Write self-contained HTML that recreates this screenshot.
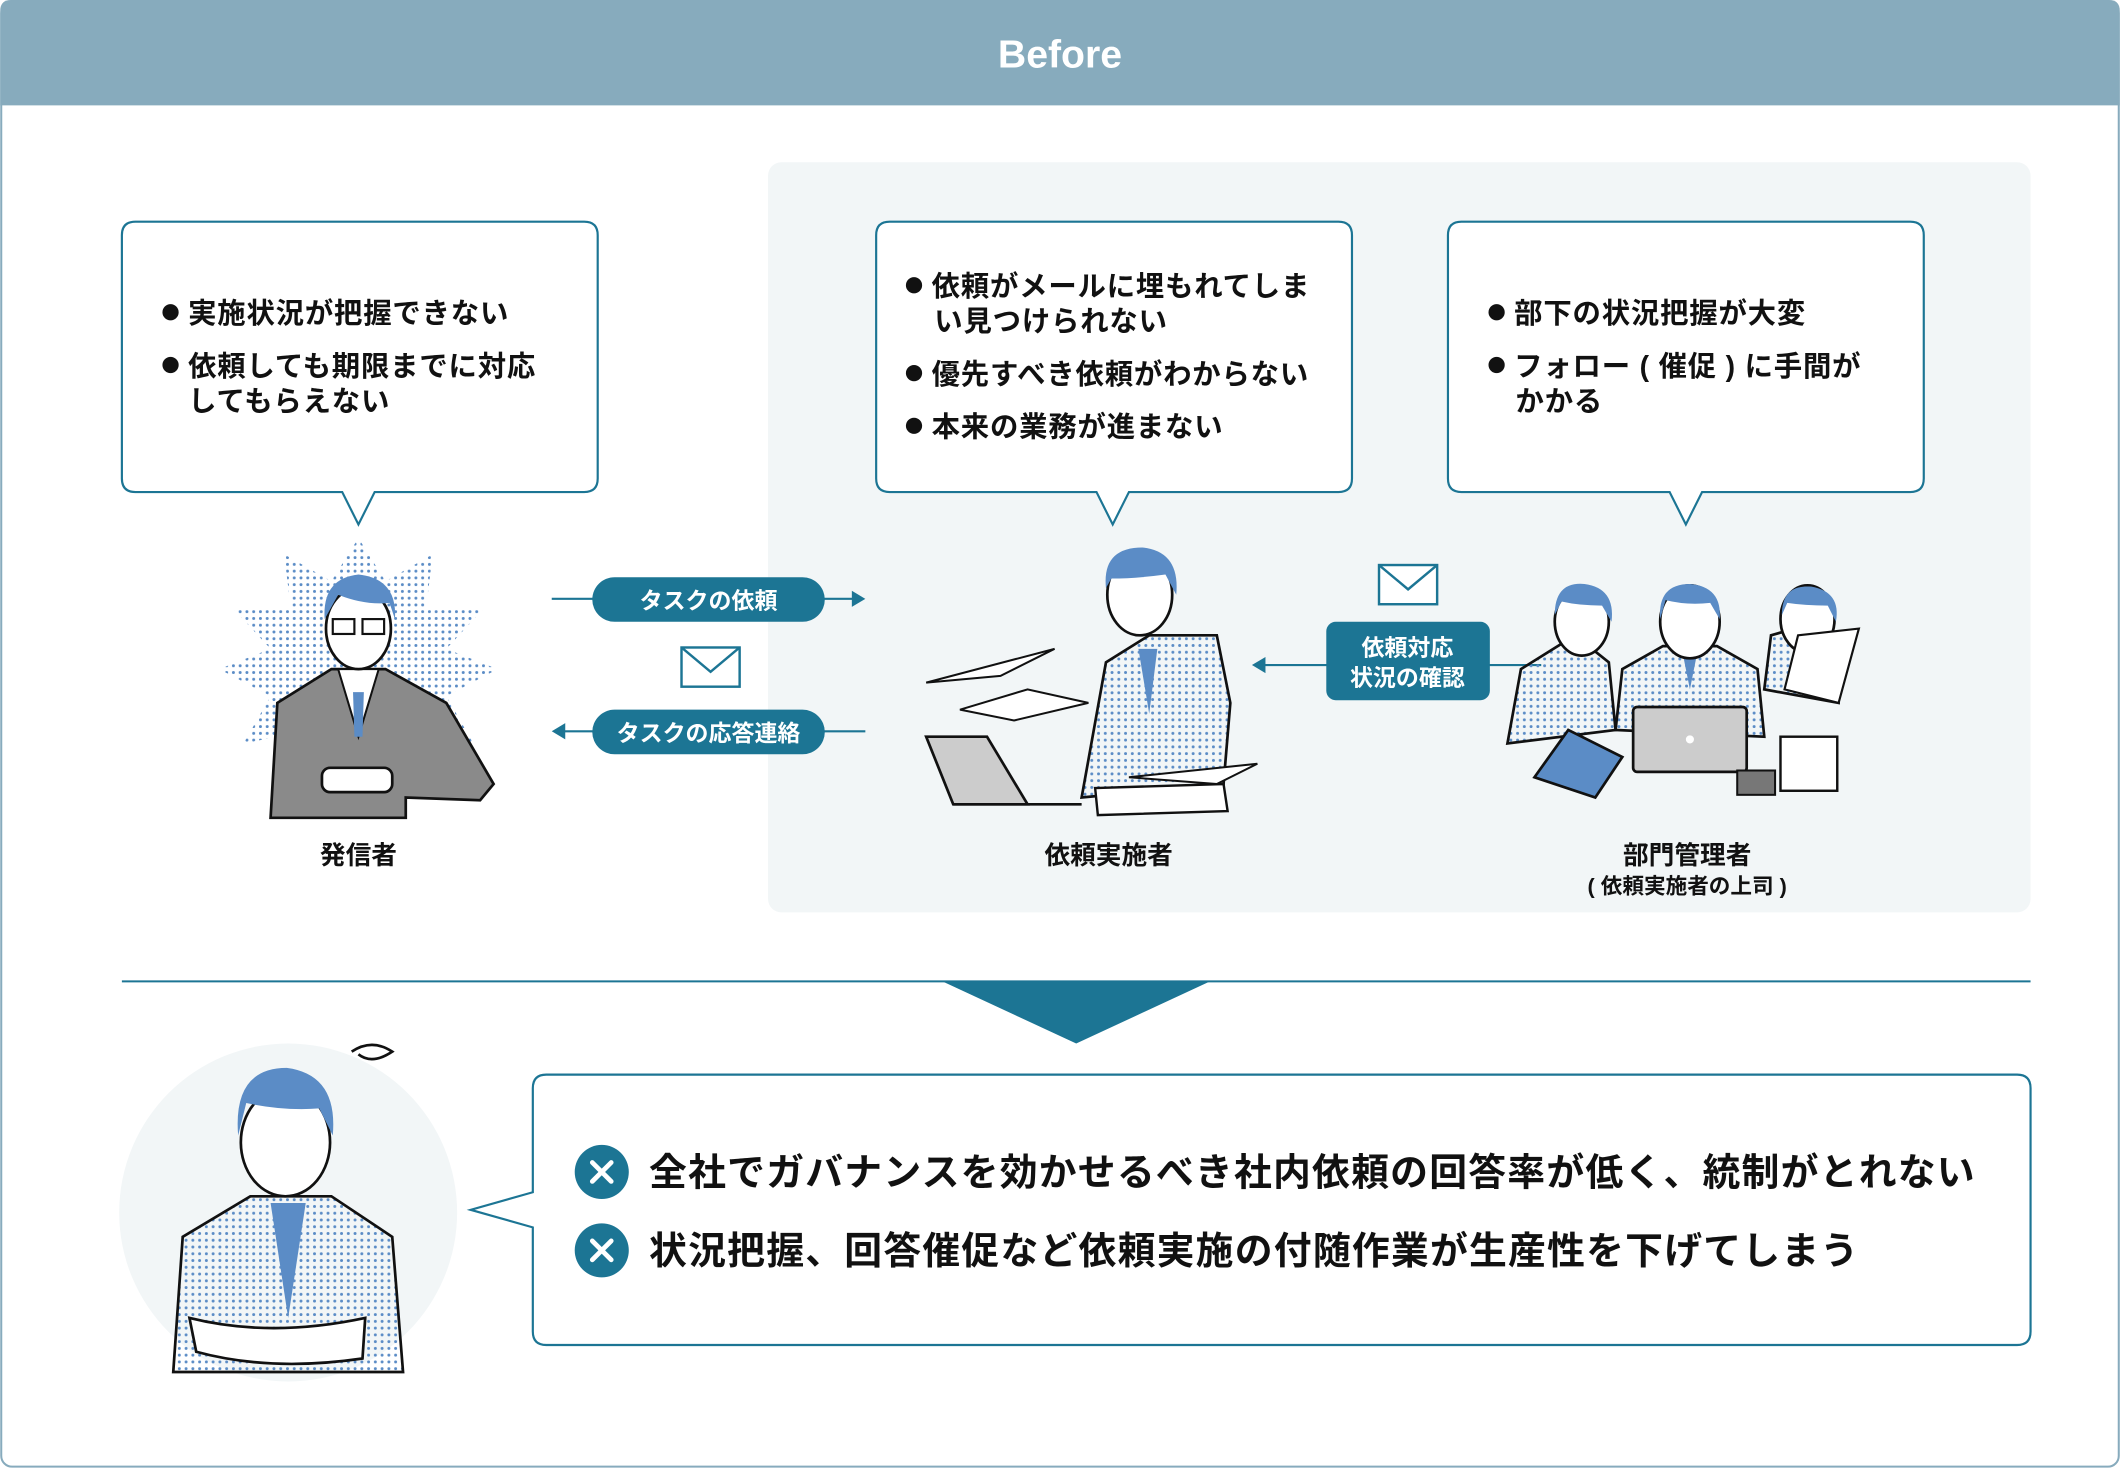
<!DOCTYPE html>
<html><head><meta charset="utf-8"><style>
html,body{margin:0;padding:0;background:#fff;}
svg{display:block;}
text{font-family:"Liberation Sans","Noto Sans CJK JP",sans-serif;font-weight:bold;}
</style></head><body>
<svg width="2120" height="1468" viewBox="0 0 1568 1086" xmlns="http://www.w3.org/2000/svg">
<defs>
<pattern id="dots" width="5" height="5" patternUnits="userSpaceOnUse"><circle cx="2.5" cy="2.5" r="1.1" fill="#5b8cc6"/></pattern>
</defs>
<rect x="0.75" y="2" width="1566.5" height="1083" rx="8" fill="#fff" stroke="#87abbd" stroke-width="1.5"/>
<path d="M0 8 Q0 0 8 0 H1560 Q1568 0 1568 8 V78 H0 Z" fill="#87abbd"/>
<text x="784" y="50" font-size="29" fill="#fff" text-anchor="middle">Before</text>
<rect x="568" y="120" width="934" height="555" rx="10" fill="#f2f6f7"/>
<g fill="#fff" stroke="#1c7594" stroke-width="1.6">
<path d="M100 164 H432 Q442 164 442 174 V354 Q442 364 432 364 H277 L265 388 L253 364 H100 Q90 364 90 354 V174 Q90 164 100 164 Z"/>
<path d="M658 164 H990 Q1000 164 1000 174 V354 Q1000 364 990 364 H835 L823 388 L811 364 H658 Q648 364 648 354 V174 Q648 164 658 164 Z"/>
<path d="M1081 164 H1413 Q1423 164 1423 174 V354 Q1423 364 1413 364 H1259 L1247 388 L1235 364 H1081 Q1071 364 1071 354 V174 Q1071 164 1081 164 Z"/>
</g>
<g fill="#111">
<circle cx="126" cy="231" r="6"/><circle cx="126" cy="270" r="6"/>
<circle cx="676" cy="211" r="6"/><circle cx="676" cy="276" r="6"/><circle cx="676" cy="315" r="6"/>
<circle cx="1107" cy="231" r="6"/><circle cx="1107" cy="270" r="6"/>
</g>
<g font-size="21" fill="#111" letter-spacing="0.6">
<text x="139" y="239">実施状況が把握できない</text>
<text x="139" y="278">依頼しても期限までに対応</text>
<text x="139" y="304">してもらえない</text>
<text x="689" y="219">依頼がメールに埋もれてしま</text>
<text x="691" y="245">い見つけられない</text>
<text x="689" y="284">優先すべき依頼がわからない</text>
<text x="689" y="323">本来の業務が進まない</text>
<text x="1120" y="239">部下の状況把握が大変</text>
<text x="1120" y="278">フォロー ( 催促 ) に手間が</text>
<text x="1121" y="304">かかる</text>
</g>
<g font-size="19" fill="#111" text-anchor="middle">
<text x="265" y="639">発信者</text>
<text x="820" y="639">依頼実施者</text>
<text x="1248" y="639">部門管理者</text>
<text x="1248" y="661" font-size="16">( 依頼実施者の上司 )</text>
</g>
<g stroke="#1c7594" stroke-width="1.6" fill="none">
<line x1="408" y1="443" x2="632" y2="443"/>
<line x1="416" y1="541" x2="640" y2="541"/>
<line x1="934" y1="492" x2="1140" y2="492"/>
</g>
<g fill="#1c7594">
<path d="M640 443 L630 437 L630 449Z"/>
<path d="M408 541 L418 535 L418 547Z"/>
<path d="M926 492 L936 486 L936 498Z"/>
<rect x="438" y="427" width="172" height="33" rx="16.5"/>
<rect x="438" y="525" width="172" height="33" rx="16.5"/>
<rect x="981" y="460" width="121" height="58" rx="7"/>
</g>
<g font-size="17" fill="#fff" text-anchor="middle">
<text x="524" y="450">タスクの依頼</text>
<text x="524" y="548">タスクの応答連絡</text>
<text x="1041" y="485">依頼対応</text>
<text x="1041" y="507">状況の確認</text>
</g>
<g fill="#fff" stroke="#1c7594" stroke-width="1.8">
<rect x="504" y="479" width="43" height="29"/><path d="M504 479 L525.5 497 L547 479" fill="none"/>
<rect x="1020" y="418" width="43" height="29"/><path d="M1020 418 L1041.5 436 L1063 418" fill="none"/>
</g>
<g>
<path d="M265 398 L285 430 L320 410 L315 450 L358 450 L330 480 L368 495 L330 515 L350 550 L300 540 L265 560 L230 540 L180 550 L200 515 L162 495 L200 480 L172 450 L215 450 L210 410 L245 430 Z" fill="url(#dots)"/>
<path d="M200 605 L205 520 L245 495 L285 495 L330 520 L365 580 L355 592 L300 590 L300 605 Z" fill="#8a8a8a" stroke="#111" stroke-width="2"/>
<path d="M250 495 L265 545 L280 495 Z" fill="#fff" stroke="#111" stroke-width="1.5"/>
<path d="M261 512 L269 512 L268 545 L262 545Z" fill="#5b8cc6"/>
<ellipse cx="265" cy="465" rx="24" ry="30" fill="#fff" stroke="#111" stroke-width="2"/>
<path d="M240 458 Q238 428 265 425 Q294 428 292 458 L288 446 Q270 448 250 440 Z" fill="#5b8cc6"/>
<rect x="246" y="458" width="16" height="11" fill="none" stroke="#111" stroke-width="1.6"/><rect x="268" y="458" width="16" height="11" fill="none" stroke="#111" stroke-width="1.6"/>
<rect x="238" y="568" width="52" height="18" rx="6" fill="#fff" stroke="#111" stroke-width="2"/>
</g>
<g>
<path d="M685 505 L780 480 L740 500 Z" fill="#fff" stroke="#111" stroke-width="1.5"/>
<path d="M710 525 L760 510 L805 520 L750 533 Z" fill="#fff" stroke="#111" stroke-width="1.5"/>
<path d="M800 590 L818 490 L850 470 L900 470 L910 520 L905 580 Z" fill="url(#dots)" stroke="#111" stroke-width="2"/>
<path d="M842 480 L850 528 L856 480Z" fill="#5b8cc6"/>
<ellipse cx="843" cy="440" rx="24" ry="30" fill="#fff" stroke="#111" stroke-width="2"/>
<path d="M818 435 Q815 405 845 405 Q873 408 870 440 L862 425 Q840 428 822 428Z" fill="#5b8cc6"/>
<path d="M685 545 L730 545 L760 595 L705 595 Z" fill="#ccc" stroke="#111" stroke-width="2"/>
<path d="M705 595 L800 595" stroke="#111" stroke-width="2"/>
<path d="M810 583 L905 580 L908 600 L812 603 Z" fill="#fff" stroke="#111" stroke-width="1.8"/>
<path d="M835 575 L930 565 L900 580 Z" fill="#fff" stroke="#111" stroke-width="1.5"/>
</g>
<g>
<path d="M1115 550 L1125 495 L1165 470 L1190 490 L1195 540 Z" fill="url(#dots)" stroke="#111" stroke-width="2"/>
<ellipse cx="1170" cy="460" rx="20" ry="25" fill="#fff" stroke="#111" stroke-width="2"/>
<path d="M1150 455 Q1150 430 1172 432 Q1195 435 1192 460 L1185 448 Q1168 448 1155 445Z" fill="#5b8cc6"/>
<path d="M1305 510 L1310 470 L1345 460 L1360 490 L1360 520 Z" fill="url(#dots)" stroke="#111" stroke-width="2"/>
<ellipse cx="1337" cy="458" rx="20" ry="25" fill="#fff" stroke="#111" stroke-width="2"/>
<path d="M1318 455 Q1318 432 1340 434 Q1362 438 1358 460 L1352 448 Q1335 448 1322 446Z" fill="#5b8cc6"/>
<path d="M1330 470 L1375 465 L1360 520 L1320 510 Z" fill="#fff" stroke="#111" stroke-width="1.6"/>
<path d="M1195 540 L1200 495 L1230 478 L1270 478 L1300 495 L1305 545 Z" fill="url(#dots)" stroke="#111" stroke-width="2"/>
<path d="M1244 480 L1250 510 L1256 480Z" fill="#5b8cc6"/>
<ellipse cx="1250" cy="460" rx="22" ry="27" fill="#fff" stroke="#111" stroke-width="2"/>
<path d="M1228 458 Q1226 432 1250 432 Q1274 434 1272 458 L1265 446 Q1248 448 1232 444Z" fill="#5b8cc6"/>
<rect x="1208" y="523" width="84" height="48" rx="3" fill="#ccc" stroke="#111" stroke-width="2"/>
<circle cx="1250" cy="547" r="3" fill="#fff"/>
<path d="M1135 575 L1160 540 L1200 560 L1180 590 Z" fill="#5b8cc6" stroke="#111" stroke-width="2"/>
<rect x="1317" y="545" width="42" height="40" fill="#fff" stroke="#111" stroke-width="1.8"/>
<rect x="1285" y="570" width="28" height="18" fill="#777" stroke="#111" stroke-width="1.5"/>
</g>
<line x1="90" y1="726" x2="1502" y2="726" stroke="#1c7594" stroke-width="1.5"/>
<path d="M697 726 H895 L796 772 Z" fill="#1c7594"/>
<circle cx="213" cy="897" r="125" fill="#f2f6f7"/>
<path d="M128 1015 L135 915 L185 885 L245 885 L290 915 L298 1015 Z" fill="url(#dots)" stroke="#111" stroke-width="2"/>
<path d="M200 890 L213 975 L226 890Z" fill="#5b8cc6"/>
<ellipse cx="211" cy="845" rx="33" ry="40" fill="#fff" stroke="#111" stroke-width="2"/>
<path d="M176 840 Q172 790 212 790 Q250 795 246 840 L236 820 Q210 822 182 816Z" fill="#5b8cc6"/>
<path d="M140 975 Q200 990 270 975 L268 1005 Q200 1015 145 1000Z" fill="#fff" stroke="#111" stroke-width="2"/>
<path d="M260 778 q15 -10 30 0 q-15 10 -25 2" fill="none" stroke="#111" stroke-width="2"/>
<path d="M404 795 H1492 Q1502 795 1502 805 V985 Q1502 995 1492 995 H404 Q394 995 394 985 V908 L348 895 L394 882 V805 Q394 795 404 795 Z" fill="#fff" stroke="#1c7594" stroke-width="1.6"/>
<g fill="#1c7594"><circle cx="445" cy="867" r="20"/><circle cx="445" cy="925" r="20"/></g>
<g stroke="#fff" stroke-width="3.5" stroke-linecap="round">
<path d="M438 860 L452 874 M452 860 L438 874"/><path d="M438 918 L452 932 M452 918 L438 932"/>
</g>
<g font-size="28" fill="#111" letter-spacing="0.9">
<text x="480" y="877">全社でガバナンスを効かせるべき社内依頼の回答率が低く、統制がとれない</text>
<text x="480" y="935">状況把握、回答催促など依頼実施の付随作業が生産性を下げてしまう</text>
</g>
</svg>
</body></html>
